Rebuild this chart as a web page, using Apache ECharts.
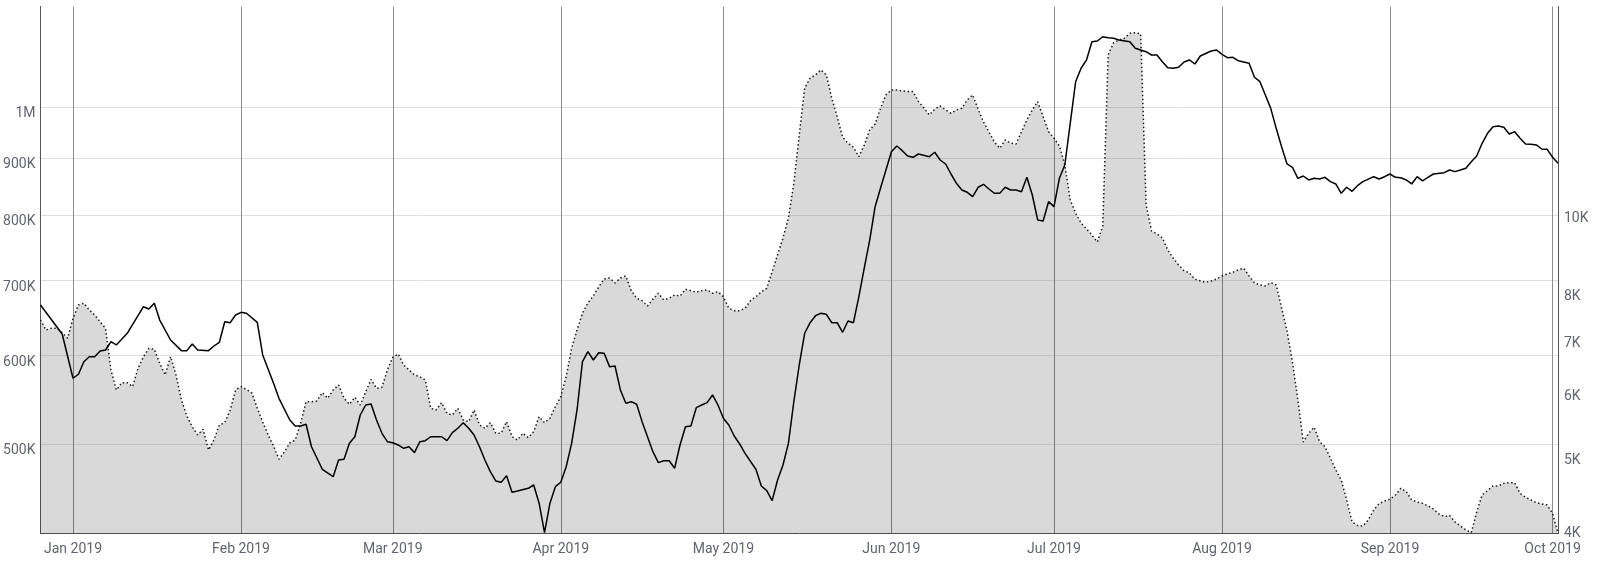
<!DOCTYPE html>
<html><head><meta charset="utf-8">
<script src="https://cdn.jsdelivr.net/npm/echarts@6/dist/echarts.min.js"></script>
<style>html,body{margin:0;padding:0;background:#fff}#chart{width:1600px;height:562px}</style>
</head><body><div id="chart"></div>
<script>
// ---- data (black line, left axis) ----
const blackDates = ['2018-12-26','2018-12-30','2019-01-01','2019-01-02','2019-01-03','2019-01-04','2019-01-05','2019-01-06','2019-01-07','2019-01-08','2019-01-09','2019-01-11','2019-01-14','2019-01-15','2019-01-16','2019-01-17','2019-01-19','2019-01-21','2019-01-22','2019-01-23','2019-01-24','2019-01-26','2019-01-27','2019-01-28','2019-01-29','2019-01-30','2019-01-31','2019-02-01','2019-02-02','2019-02-04','2019-02-05','2019-02-07','2019-02-08','2019-02-10','2019-02-11','2019-02-12','2019-02-13','2019-02-14','2019-02-16','2019-02-18','2019-02-19','2019-02-20','2019-02-21','2019-02-22','2019-02-23','2019-02-24','2019-02-25','2019-02-26','2019-02-27','2019-02-28','2019-03-01','2019-03-02','2019-03-03','2019-03-04','2019-03-05','2019-03-06','2019-03-07','2019-03-08','2019-03-10','2019-03-11','2019-03-12','2019-03-13','2019-03-14','2019-03-15','2019-03-16','2019-03-17','2019-03-18','2019-03-19','2019-03-20','2019-03-21','2019-03-22','2019-03-23','2019-03-24','2019-03-26','2019-03-27','2019-03-28','2019-03-29','2019-03-30','2019-03-31','2019-04-01','2019-04-02','2019-04-03','2019-04-04','2019-04-05','2019-04-06','2019-04-07','2019-04-08','2019-04-09','2019-04-10','2019-04-11','2019-04-12','2019-04-13','2019-04-14','2019-04-15','2019-04-16','2019-04-18','2019-04-19','2019-04-20','2019-04-21','2019-04-22','2019-04-23','2019-04-24','2019-04-25','2019-04-26','2019-04-27','2019-04-28','2019-04-29','2019-04-30','2019-05-01','2019-05-02','2019-05-03','2019-05-04','2019-05-05','2019-05-07','2019-05-08','2019-05-09','2019-05-10','2019-05-11','2019-05-12','2019-05-13','2019-05-14','2019-05-15','2019-05-16','2019-05-17','2019-05-18','2019-05-19','2019-05-20','2019-05-21','2019-05-22','2019-05-23','2019-05-24','2019-05-25','2019-05-26','2019-05-27','2019-05-28','2019-05-29','2019-05-30','2019-05-31','2019-06-01','2019-06-02','2019-06-03','2019-06-04','2019-06-05','2019-06-06','2019-06-08','2019-06-09','2019-06-10','2019-06-11','2019-06-12','2019-06-13','2019-06-14','2019-06-15','2019-06-16','2019-06-17','2019-06-18','2019-06-19','2019-06-20','2019-06-21','2019-06-22','2019-06-23','2019-06-24','2019-06-25','2019-06-26','2019-06-27','2019-06-28','2019-06-29','2019-06-30','2019-07-01','2019-07-02','2019-07-03','2019-07-04','2019-07-05','2019-07-06','2019-07-07','2019-07-08','2019-07-09','2019-07-10','2019-07-11','2019-07-12','2019-07-13','2019-07-15','2019-07-16','2019-07-18','2019-07-19','2019-07-20','2019-07-21','2019-07-22','2019-07-23','2019-07-24','2019-07-25','2019-07-26','2019-07-27','2019-07-28','2019-07-30','2019-07-31','2019-08-01','2019-08-02','2019-08-03','2019-08-04','2019-08-06','2019-08-07','2019-08-08','2019-08-09','2019-08-10','2019-08-11','2019-08-12','2019-08-13','2019-08-14','2019-08-15','2019-08-16','2019-08-17','2019-08-18','2019-08-19','2019-08-20','2019-08-21','2019-08-22','2019-08-23','2019-08-24','2019-08-25','2019-08-26','2019-08-27','2019-08-29','2019-08-30','2019-08-31','2019-09-01','2019-09-02','2019-09-03','2019-09-04','2019-09-05','2019-09-06','2019-09-07','2019-09-08','2019-09-09','2019-09-11','2019-09-12','2019-09-13','2019-09-14','2019-09-15','2019-09-16','2019-09-17','2019-09-18','2019-09-19','2019-09-20','2019-09-21','2019-09-22','2019-09-23','2019-09-24','2019-09-25','2019-09-26','2019-09-27','2019-09-28','2019-09-29','2019-09-30','2019-10-01','2019-10-02'];
const blackValues = [665700,627300,572800,577500,592600,598700,598700,605800,607000,617400,613300,628200,663400,660300,668100,645500,619600,606200,606200,614500,607000,606200,612000,616700,643300,642000,652200,655800,654500,642500,600800,566900,549700,525800,519400,519400,521200,497700,475200,468000,484300,485000,501200,508000,531200,542200,543300,525800,511600,502900,501800,499500,496100,497700,491700,502900,503900,508000,508000,503900,512300,516900,522900,516900,509800,497700,484300,472900,463900,462700,469000,453300,454500,457000,460100,443200,417200,443200,458500,462700,477700,501200,536700,592600,604900,594700,603600,602900,586600,587400,559200,544100,545900,543000,524000,492700,481700,483600,483600,476200,499500,518600,519400,539200,542200,544800,553500,542200,527600,520400,508800,500500,491000,475200,459200,454800,445600,464900,479400,501200,545900,588600,628200,642000,651300,654500,653100,642000,642000,629500,644200,642000,677200,718300,760700,814600,846400,878300,911900,922600,913800,903900,901500,907600,902600,910800,896500,889200,871100,854600,843000,839000,831500,847700,852900,844700,837300,837300,847700,843000,843000,840000,865200,834400,792600,791000,823000,814600,863400,887300,966600,1052800,1082200,1100800,1142900,1144500,1154600,1152300,1150800,1146800,1142900,1127500,1119600,1112100,1112100,1096900,1083500,1082200,1084400,1096200,1100800,1091700,1109800,1121200,1123500,1113700,1105900,1106900,1099200,1093400,1062400,1052800,1024300,996700,956700,921300,889200,883200,863400,867500,860500,863400,862200,865200,857500,853500,837300,847700,840700,850400,857500,866300,862200,866300,871100,865200,864500,860500,853500,866300,858900,865200,871100,873500,878300,875300,878300,881400,893400,903900,927800,947000,959900,961300,958700,945600,950100,937400,926500,925900,924600,917000,916400,901500,890400];

// ---- data (grey area, right axis) ----
const areaDates = ['2018-12-26','2018-12-27','2018-12-28','2018-12-29','2018-12-30','2018-12-31','2019-01-01','2019-01-02','2019-01-03','2019-01-04','2019-01-05','2019-01-06','2019-01-07','2019-01-08','2019-01-09','2019-01-10','2019-01-11','2019-01-12','2019-01-13','2019-01-14','2019-01-15','2019-01-16','2019-01-17','2019-01-18','2019-01-19','2019-01-20','2019-01-21','2019-01-22','2019-01-23','2019-01-24','2019-01-25','2019-01-26','2019-01-27','2019-01-28','2019-01-29','2019-01-30','2019-01-31','2019-02-01','2019-02-02','2019-02-03','2019-02-04','2019-02-05','2019-02-06','2019-02-07','2019-02-08','2019-02-09','2019-02-10','2019-02-11','2019-02-12','2019-02-13','2019-02-14','2019-02-15','2019-02-16','2019-02-17','2019-02-18','2019-02-19','2019-02-20','2019-02-21','2019-02-22','2019-02-23','2019-02-24','2019-02-25','2019-02-26','2019-02-27','2019-02-28','2019-03-01','2019-03-02','2019-03-03','2019-03-04','2019-03-05','2019-03-06','2019-03-07','2019-03-08','2019-03-09','2019-03-10','2019-03-11','2019-03-12','2019-03-13','2019-03-14','2019-03-15','2019-03-16','2019-03-17','2019-03-18','2019-03-19','2019-03-20','2019-03-21','2019-03-22','2019-03-23','2019-03-24','2019-03-25','2019-03-26','2019-03-27','2019-03-28','2019-03-29','2019-03-30','2019-03-31','2019-04-01','2019-04-02','2019-04-03','2019-04-04','2019-04-05','2019-04-06','2019-04-07','2019-04-08','2019-04-09','2019-04-10','2019-04-11','2019-04-12','2019-04-13','2019-04-14','2019-04-15','2019-04-16','2019-04-17','2019-04-18','2019-04-19','2019-04-20','2019-04-21','2019-04-22','2019-04-23','2019-04-24','2019-04-25','2019-04-26','2019-04-27','2019-04-28','2019-04-29','2019-04-30','2019-05-01','2019-05-02','2019-05-03','2019-05-04','2019-05-05','2019-05-06','2019-05-07','2019-05-08','2019-05-09','2019-05-10','2019-05-11','2019-05-12','2019-05-13','2019-05-14','2019-05-15','2019-05-16','2019-05-17','2019-05-18','2019-05-19','2019-05-20','2019-05-21','2019-05-22','2019-05-23','2019-05-24','2019-05-25','2019-05-26','2019-05-27','2019-05-28','2019-05-29','2019-05-30','2019-05-31','2019-06-01','2019-06-02','2019-06-03','2019-06-04','2019-06-05','2019-06-06','2019-06-07','2019-06-08','2019-06-09','2019-06-10','2019-06-11','2019-06-12','2019-06-13','2019-06-14','2019-06-15','2019-06-16','2019-06-17','2019-06-18','2019-06-19','2019-06-20','2019-06-21','2019-06-22','2019-06-23','2019-06-24','2019-06-25','2019-06-26','2019-06-27','2019-06-28','2019-06-29','2019-06-30','2019-07-01','2019-07-02','2019-07-03','2019-07-04','2019-07-05','2019-07-06','2019-07-07','2019-07-08','2019-07-09','2019-07-10','2019-07-11','2019-07-12','2019-07-13','2019-07-14','2019-07-15','2019-07-16','2019-07-17','2019-07-18','2019-07-19','2019-07-20','2019-07-21','2019-07-22','2019-07-23','2019-07-24','2019-07-25','2019-07-26','2019-07-27','2019-07-28','2019-07-29','2019-07-30','2019-07-31','2019-08-01','2019-08-02','2019-08-03','2019-08-04','2019-08-05','2019-08-06','2019-08-07','2019-08-08','2019-08-09','2019-08-10','2019-08-11','2019-08-12','2019-08-13','2019-08-14','2019-08-15','2019-08-16','2019-08-17','2019-08-18','2019-08-19','2019-08-20','2019-08-21','2019-08-22','2019-08-23','2019-08-24','2019-08-25','2019-08-26','2019-08-27','2019-08-28','2019-08-29','2019-08-30','2019-08-31','2019-09-01','2019-09-02','2019-09-03','2019-09-04','2019-09-05','2019-09-06','2019-09-07','2019-09-08','2019-09-09','2019-09-10','2019-09-11','2019-09-12','2019-09-13','2019-09-14','2019-09-15','2019-09-16','2019-09-17','2019-09-18','2019-09-19','2019-09-20','2019-09-21','2019-09-22','2019-09-23','2019-09-24','2019-09-25','2019-09-26','2019-09-27','2019-09-28','2019-09-29','2019-09-30','2019-10-01','2019-10-02'];
const areaValues = [7372,7164,7199,7199,7109,6996,7408,7696,7734,7586,7479,7330,7199,6389,6033,6161,6161,6091,6420,6637,6798,6779,6512,6298,6637,6298,5863,5600,5431,5304,5391,5081,5228,5458,5494,5697,6033,6091,6042,5982,5725,5505,5304,5139,4947,5052,5184,5228,5484,5834,5834,5846,5987,5892,6033,6120,5892,5791,5908,5780,5999,6221,6062,6080,6389,6625,6688,6481,6389,6298,6268,6208,5725,5697,5818,5644,5616,5725,5536,5510,5697,5458,5406,5494,5330,5330,5510,5278,5228,5330,5263,5354,5589,5494,5563,5751,5918,6268,6798,7164,7515,7740,7897,8103,8291,8315,8197,8315,8363,8018,7845,7791,7674,7823,7958,7807,7845,7920,7897,8050,8018,7981,8018,8034,7958,7995,7881,7624,7572,7572,7624,7791,7881,7988,8073,8466,8881,9324,9873,10905,12522,14316,14732,14871,15086,14871,13911,13197,12440,12229,12089,11768,12169,12703,12923,13518,14043,14246,14246,14205,14177,14177,13776,13530,13261,13480,13608,13453,13326,13453,13518,13844,14043,13480,12997,12630,12274,12055,12344,12229,12204,12630,13072,13453,13776,13197,12641,12405,12134,11492,10396,10008,9733,9567,9404,9218,9650,15746,16311,16438,16518,16756,16785,16722,10248,9513,9432,9324,9009,8798,8630,8490,8435,8284,8244,8213,8244,8291,8363,8411,8452,8508,8549,8363,8197,8150,8127,8204,8150,7630,7144,6537,5863,5198,5330,5422,5203,5129,4966,4798,4662,4403,4134,4093,4087,4158,4278,4359,4390,4412,4466,4553,4509,4403,4378,4361,4328,4291,4230,4200,4212,4134,4087,4040,4011,4254,4466,4522,4583,4583,4618,4626,4626,4488,4437,4403,4369,4353,4340,4238,4000];

// ---- axes ----
const monthStarts = ['2019-01-01','2019-02-01','2019-03-01','2019-04-01','2019-05-01','2019-06-01','2019-07-01','2019-08-01','2019-09-01','2019-10-01'];
const monthLabels = ['Jan 2019','Feb 2019','Mar 2019','Apr 2019','May 2019','Jun 2019','Jul 2019','Aug 2019','Sep 2019','Oct 2019'];
const leftTicks = [500000,600000,700000,800000,900000,1000000];
const leftTickLabels = ['500K','600K','700K','800K','900K','1M'];
const rightTicks = [4000,5000,6000,7000,8000,10000];
const rightTickLabels = ['4K','5K','6K','7K','8K','10K'];
const xRange = ['2018-12-26','2019-10-02'];
const leftRange = [416500,1228500];
const rightRange = [4000,18090];

const ts = s => { const p = s.split('-').map(Number); return new Date(p[0], p[1]-1, p[2]).getTime(); };
const L = Math.log10;
const findIdx = (arr, v) => arr.findIndex(t => Math.abs(L(t) - v) < 1e-6);
const monthTs = monthStarts.map(ts);

const FONT = 'Roboto, "Noto Sans", sans-serif';
const labelColor = '#62646e';

const chart = echarts.init(document.getElementById('chart'), null, {renderer: 'canvas'});
chart.setOption({
  animation: false,
  backgroundColor: '#fff',
  grid: {left: 40.5, right: 42, top: 6.5, bottom: 28.5, containLabel: false},
  xAxis: {
    type: 'value',
    min: ts(xRange[0]), max: ts(xRange[1]),
    axisLine: {show: true, lineStyle: {color: '#555', width: 1}},
    axisTick: {show: false, customValues: monthTs},
    axisLabel: {
      customValues: monthTs, color: labelColor, fontFamily: FONT, fontSize: 14, margin: 9,
      formatter: v => { const i = monthTs.findIndex(t => Math.abs(t - v) < 3600000); return i >= 0 ? monthLabels[i] : ''; }
    },
    splitLine: {show: true, lineStyle: {color: '#8f8f8f', width: 1}}
  },
  yAxis: [
    {
      type: 'value', position: 'left',
      min: L(leftRange[0]), max: L(leftRange[1]),
      axisLine: {show: true, lineStyle: {color: '#555', width: 1}},
      axisTick: {show: false, customValues: leftTicks.map(L)},
      axisLabel: {
        customValues: leftTicks.map(L), color: labelColor, fontFamily: FONT, fontSize: 14, margin: 5,
        formatter: v => { const i = findIdx(leftTicks, v); return i >= 0 ? '{n|' + leftTickLabels[i] + '}' : ''; },
        rich: {
          n: {color: labelColor, fontFamily: FONT, fontSize: 14, padding: [13, 0, 0, 0]}
        }
      },
      splitLine: {show: true, lineStyle: {color: '#e0e0e0', width: 1}}
    },
    {
      type: 'value', position: 'right',
      min: L(rightRange[0]), max: L(rightRange[1]),
      axisLine: {show: true, lineStyle: {color: '#555', width: 1}},
      axisTick: {show: false, customValues: rightTicks.map(L)},
      axisLabel: {
        customValues: rightTicks.map(L), color: labelColor, fontFamily: FONT, fontSize: 14, margin: 6,
        formatter: v => { const i = findIdx(rightTicks, v); if (i < 0) return ''; return i === 0 ? '{lo|' + rightTickLabels[i] + '}' : '{n|' + rightTickLabels[i] + '}'; },
        rich: {
          lo: {color: labelColor, fontFamily: FONT, fontSize: 14, padding: [0, 0, 1, 0]},
          n: {color: labelColor, fontFamily: FONT, fontSize: 14, padding: [10, 0, 0, 0]}
        }
      },
      splitLine: {show: false}
    }
  ],
  series: [
    {
      name: 'area', type: 'line', yAxisIndex: 1, symbol: 'none', silent: true, z: 2,
      data: areaDates.map((d, i) => [ts(d), L(areaValues[i])]),
      lineStyle: {color: '#1a1a1a', width: 1.5, type: [1.5, 2.5]},
      areaStyle: {color: 'rgba(0,0,0,0.15)', opacity: 1, origin: 'start'}
    },
    {
      name: 'line', type: 'line', yAxisIndex: 0, symbol: 'none', silent: true, z: 3,
      data: blackDates.map((d, i) => [ts(d), L(blackValues[i])]),
      lineStyle: {color: '#000', width: 1.5}
    }
  ]
});
</script>
</body></html>
